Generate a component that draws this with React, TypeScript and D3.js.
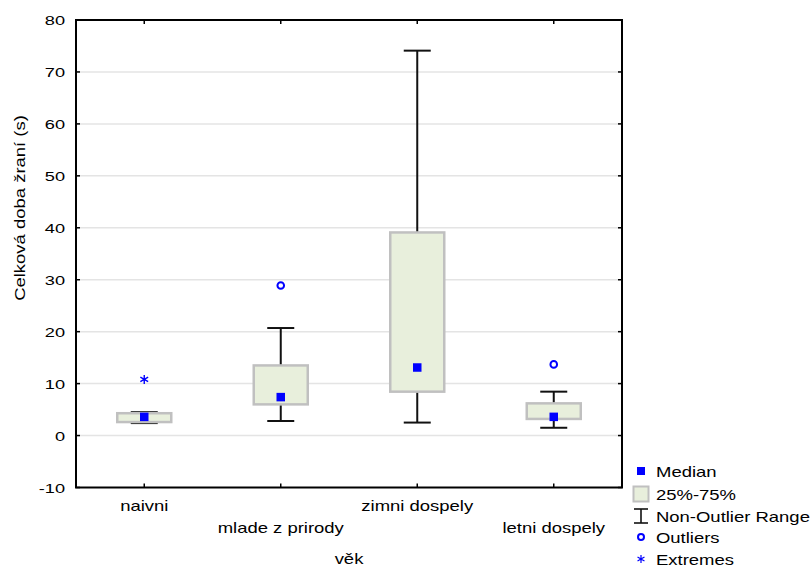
import React from "react";
import * as d3 from "d3";

// box plot summary
const categories = ["naivni", "mlade z prirody", "zimni dospely", "letni dospely"];
const medians = [3.6, 7.4, 13.1, 3.6];
const q1 = [2.6, 6.0, 8.45, 3.2];
const q3 = [4.3, 13.5, 39.1, 6.2];
const whiskerLow = [2.4, 2.8, 2.5, 1.5];
const whiskerHigh = [4.5, 20.7, 74.1, 8.45];
const outliers = [[], [28.9], [], [13.7]];
const extremes = [[10.8], [], [], []];
const yTicks = [-10, 0, 10, 20, 30, 40, 50, 60, 70, 80];
const legendItems = ["Median", "25%-75%", "Non-Outlier Range", "Outliers", "Extremes"];

const width = 812;
const height = 566;
const plot = { left: 76, right: 622, top: 20, bottom: 487.5 };
const font = "'Liberation Sans', Arial, sans-serif";
const sx = 1.32; // the original text is rendered wide
const blue = "#0000ff";
const boxFill = "#e8efdc";
const boxStroke = "#c0c0c0";

// six-armed star used for extremes
const star = (r: number) => {
  const p = d3.path();
  [90, 30, -30].forEach((deg) => {
    const a = (deg * Math.PI) / 180;
    p.moveTo(-r * Math.cos(a), -r * Math.sin(a));
    p.lineTo(r * Math.cos(a), r * Math.sin(a));
  });
  return p.toString();
};

const Txt: React.FC<{ x: number; y: number; anchor?: string; size?: number; stretch?: number; rotate?: number; children: React.ReactNode }> = ({
  x,
  y,
  anchor = "start",
  size = 14,
  stretch = sx,
  rotate = 0,
  children,
}) => (
  <text
    transform={`translate(${x},${y}) rotate(${rotate}) scale(${stretch},1)`}
    textAnchor={anchor}
    fontFamily={font}
    fontSize={size}
    fill="#000"
  >
    {children}
  </text>
);

const App: React.FC = () => {
  const x = d3.scaleBand<string>().domain(categories).range([plot.left, plot.right]).padding(0);
  const y = d3.scaleLinear().domain([-10, 80]).range([plot.bottom, plot.top]);
  const cx = (c: string) => x(c)! + x.bandwidth() / 2;
  const boxW = 54;
  const capW = 27;
  const med = 8.5;

  return (
    <svg width={width} height={height} style={{ position: "absolute", left: 0, top: 0, background: "#fff" }}>
      {/* grid */}
      {yTicks
        .filter((t) => t > -10 && t < 80)
        .map((t) => (
          <line key={"g" + t} x1={plot.left} x2={plot.right} y1={y(t)} y2={y(t)} stroke="#e4e4e4" strokeWidth={1.5} />
        ))}

      {/* boxes */}
      {categories.map((c, i) => {
        const m = cx(c);
        return (
          <g key={c}>
            <line x1={m} x2={m} y1={y(whiskerLow[i])} y2={y(whiskerHigh[i])} stroke="#111" strokeWidth={2} />
            <line x1={m - capW / 2} x2={m + capW / 2} y1={y(whiskerHigh[i])} y2={y(whiskerHigh[i])} stroke="#111" strokeWidth={2} />
            <line x1={m - capW / 2} x2={m + capW / 2} y1={y(whiskerLow[i])} y2={y(whiskerLow[i])} stroke="#111" strokeWidth={2} />
            <rect
              x={m - boxW / 2}
              y={y(q3[i])}
              width={boxW}
              height={y(q1[i]) - y(q3[i])}
              fill={boxFill}
              stroke={boxStroke}
              strokeWidth={2.5}
            />
            <rect x={m - med / 2} y={y(medians[i]) - med / 2} width={med} height={med} fill={blue} />
            {outliers[i].map((v, j) => (
              <circle key={"o" + j} cx={m} cy={y(v)} r={3.3} fill="none" stroke={blue} strokeWidth={2} />
            ))}
            {extremes[i].map((v, j) => (
              <path key={"e" + j} d={star(4.5)} transform={`translate(${m},${y(v)})`} fill="none" stroke={blue} strokeWidth={1.4} />
            ))}
          </g>
        );
      })}

      {/* frame */}
      <rect
        x={plot.left}
        y={plot.top}
        width={plot.right - plot.left}
        height={plot.bottom - plot.top}
        fill="none"
        stroke="#000"
        strokeWidth={2}
      />
      {yTicks.map((t) => (
        <g key={"t" + t}>
          <line x1={plot.left} x2={plot.left + 4} y1={y(t)} y2={y(t)} stroke="#000" strokeWidth={1.5} />
          <line x1={plot.right - 4} x2={plot.right} y1={y(t)} y2={y(t)} stroke="#000" strokeWidth={1.5} />
          <Txt x={65} y={y(t) + 5} anchor="end" size={13} stretch={1.4}>
            {t}
          </Txt>
        </g>
      ))}
      {categories.map((c, i) => (
        <g key={"x" + c}>
          <line x1={cx(c)} x2={cx(c)} y1={plot.bottom} y2={plot.bottom - 4} stroke="#000" strokeWidth={1.5} />
          <line x1={cx(c)} x2={cx(c)} y1={plot.top} y2={plot.top + 4} stroke="#000" strokeWidth={1.5} />
          <Txt x={cx(c)} y={i % 2 === 0 ? 511 : 533} anchor="middle">
            {c}
          </Txt>
        </g>
      ))}

      {/* axis titles */}
      <Txt x={(plot.left + plot.right) / 2} y={564} anchor="middle">
        věk
      </Txt>
      <Txt x={25} y={208} anchor="middle" rotate={-90}>
        Celková doba žraní (s)
      </Txt>

      {/* legend */}
      {legendItems.map((label, i) => {
        const ly = [471, 494, 516, 537, 559][i];
        const lx = 641;
        return (
          <g key={label}>
            {i === 0 && <rect x={lx - 4} y={ly - 4} width={8} height={8} fill={blue} />}
            {i === 1 && <rect x={lx - 7.5} y={ly - 7.5} width={15} height={15} fill={boxFill} stroke={boxStroke} strokeWidth={2} />}
            {i === 2 && (
              <g stroke="#111" strokeWidth={1.6}>
                <line x1={lx} x2={lx} y1={ly - 7} y2={ly + 7} />
                <line x1={lx - 7} x2={lx + 7} y1={ly - 7} y2={ly - 7} />
                <line x1={lx - 7} x2={lx + 7} y1={ly + 7} y2={ly + 7} />
              </g>
            )}
            {i === 3 && <circle cx={lx} cy={ly} r={3} fill="none" stroke={blue} strokeWidth={2} />}
            {i === 4 && <path d={star(4)} transform={`translate(${lx},${ly})`} fill="none" stroke={blue} strokeWidth={1.2} />}
            <Txt x={656} y={ly + 5.5}>
              {label}
            </Txt>
          </g>
        );
      })}
    </svg>
  );
};

export default App;
